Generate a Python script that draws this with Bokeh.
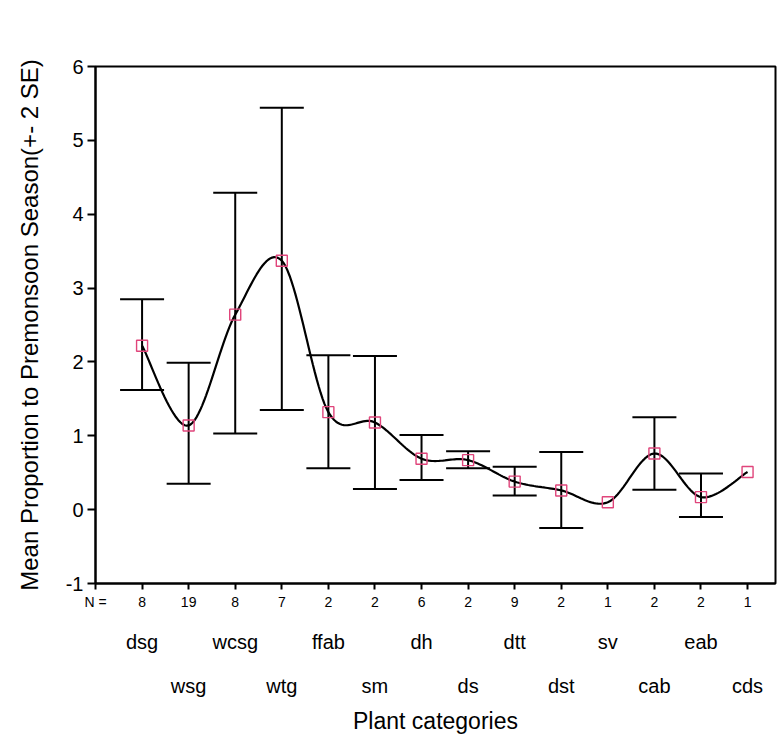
import numpy as np
from bokeh.plotting import figure
from bokeh.models import (ColumnDataSource, Whisker, TeeHead, LinearAxis,
                          FixedTicker, Range1d)
from bokeh.embed import file_html
from bokeh.resources import INLINE

# ---- data ----
categories = ["dsg", "wsg", "wcsg", "wtg", "ffab", "sm", "dh", "ds",
              "dtt", "dst", "sv", "cab", "eab", "cds"]
n_counts = [8, 19, 8, 7, 2, 2, 6, 2, 9, 2, 1, 2, 2, 1]
means = [2.22, 1.14, 2.64, 3.37, 1.32, 1.18, 0.69, 0.67,
         0.38, 0.26, 0.10, 0.76, 0.17, 0.51]
upper = [2.85, 1.99, 4.29, 5.44, 2.09, 2.08, 1.01, 0.79,
         0.58, 0.78, None, 1.25, 0.49, None]
lower = [1.62, 0.35, 1.03, 1.35, 0.56, 0.28, 0.40, 0.56,
         0.19, -0.25, None, 0.27, -0.10, None]
y_ticks = [-1, 0, 1, 2, 3, 4, 5, 6]

FONT = "Liberation Sans"
xs = list(range(1, len(categories) + 1))

p = figure(width=779, height=736, output_backend="svg", toolbar_location=None,
           x_range=Range1d(0, 14.6), y_range=Range1d(-1, 6),
           min_border_left=95, min_border_right=4, min_border_top=66,
           min_border_bottom=142)
p.grid.visible = False
p.outline_line_color = "black"
p.outline_line_width = 2
p.background_fill_color = "white"
p.border_fill_color = "white"

# y axis
ya = p.yaxis[0]
ya.ticker = FixedTicker(ticks=y_ticks)
ya.major_label_overrides = {v: str(v) for v in y_ticks}
ya.minor_tick_line_color = None
ya.major_tick_out = 8
ya.major_tick_in = 0
ya.major_tick_line_width = 2
ya.axis_line_width = 2
ya.major_label_text_font = FONT
ya.major_label_text_font_size = "20px"
ya.major_label_text_color = "black"
ya.major_label_standoff = 4
ya.axis_label = "Mean Proportion to Premonsoon Season(+- 2 SE)"
ya.axis_label_text_font = FONT
ya.axis_label_text_font_style = "normal"
ya.axis_label_text_font_size = "24px"
ya.axis_label_text_color = "black"
ya.axis_label_standoff = 20

# x axis: N counts (with the "N =" lead-in at the left edge)
xa = p.xaxis[0]
xa.ticker = FixedTicker(ticks=[0] + xs)
overrides = {x: str(n) for x, n in zip(xs, n_counts)}
overrides[0] = "N ="
xa.major_label_overrides = overrides
xa.minor_tick_line_color = None
xa.major_tick_out = 6
xa.major_tick_in = 0
xa.major_tick_line_width = 2
xa.axis_line_width = 2
xa.major_label_text_font = FONT
xa.major_label_text_font_size = "14px"
xa.major_label_text_color = "black"
xa.major_label_standoff = 4

# staggered category names
row1 = xs[0::2]
row2 = xs[1::2]
ax_b = LinearAxis(ticker=FixedTicker(ticks=row1),
                  major_label_overrides={x: categories[x - 1] for x in row1},
                  axis_line_color=None, major_tick_line_color=None,
                  minor_tick_line_color=None, major_label_standoff=12,
                  major_label_text_font=FONT, major_label_text_font_size="20px",
                  major_label_text_color="black")
ax_c = LinearAxis(ticker=FixedTicker(ticks=row2),
                  major_label_overrides={x: categories[x - 1] for x in row2},
                  axis_line_color=None, major_tick_line_color=None,
                  minor_tick_line_color=None, major_label_standoff=13,
                  major_label_text_font=FONT, major_label_text_font_size="20px",
                  major_label_text_color="black",
                  axis_label="Plant categories", axis_label_text_font=FONT,
                  axis_label_text_font_style="normal",
                  axis_label_text_font_size="23px",
                  axis_label_text_color="black", axis_label_standoff=8)
p.add_layout(ax_b, "below")
p.add_layout(ax_c, "below")

# error bars (mean +- 2 SE)
eb_x = [x for x, u in zip(xs, upper) if u is not None]
eb_u = [u for u in upper if u is not None]
eb_l = [l for l in lower if l is not None]
eb_src = ColumnDataSource(dict(x=eb_x, upper=eb_u, lower=eb_l))
p.add_layout(Whisker(base="x", upper="upper", lower="lower", source=eb_src,
                     line_color="black", line_width=2,
                     upper_head=TeeHead(size=44, line_color="black", line_width=2),
                     lower_head=TeeHead(size=44, line_color="black", line_width=2)))

# smooth (Catmull-Rom) line through the means, as drawn by the source chart
pts = np.column_stack([xs, means]).astype(float)
ext = np.vstack([pts[0], pts, pts[-1]])
cx, cy = [], []
t = np.linspace(0, 1, 25)
for i in range(1, len(ext) - 2):
    p0, p1, p2, p3 = ext[i - 1], ext[i], ext[i + 1], ext[i + 2]
    seg = 0.5 * ((2 * p1)[None, :] + np.outer(t, (-p0 + p2))
                 + np.outer(t ** 2, (2 * p0 - 5 * p1 + 4 * p2 - p3))
                 + np.outer(t ** 3, (-p0 + 3 * p1 - 3 * p2 + p3)))
    cx.extend(seg[:, 0].tolist())
    cy.extend(seg[:, 1].tolist())
p.line(cx, cy, line_color="black", line_width=2.2)

p.scatter(xs, means, marker="square", size=11, fill_color=None,
          line_color="#e0457b", line_width=1.4)

open("out.html", "w").write(file_html(p, INLINE))
